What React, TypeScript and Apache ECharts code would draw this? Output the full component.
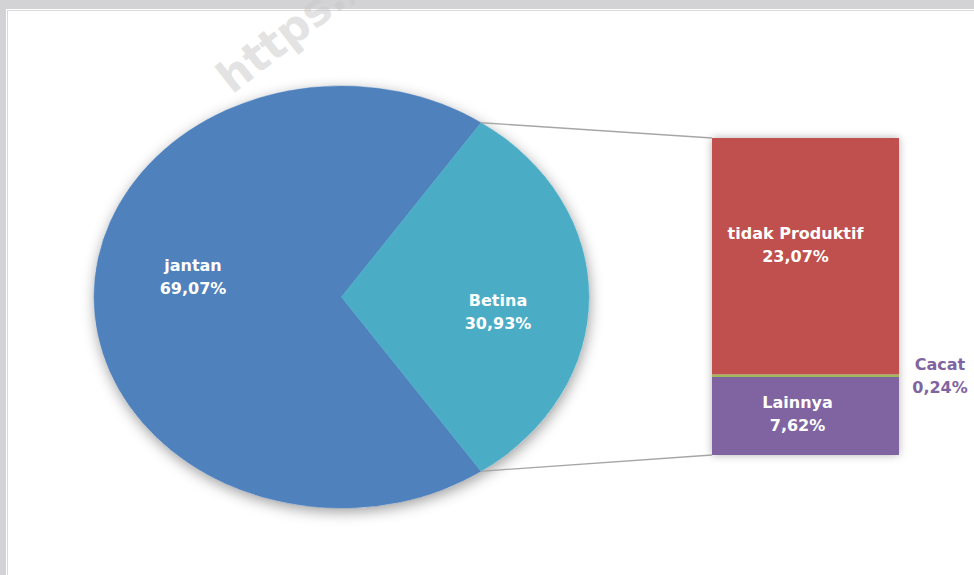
import React, { useEffect, useRef } from "react";
import * as echarts from "echarts";

const pieNames = ["jantan", "Betina"];
const pieValues = [69.07, 30.93];
const pieColors = ["#4f81bd", "#4bacc6"];

const barNames = ["Lainnya", "Cacat", "tidak Produktif"];
const barValues = [7.62, 0.24, 23.07];
const barColors = ["#8064a2", "#9bbb59", "#c0504d"];

const fmt = (v: number) => v.toFixed(2).replace(".", ",") + "%";

// layout
const CX = 341.5;
const CY = 297;
const RX = 247.5;
const RY = 211;
const GRID = { left: 712, top: 138, width: 187, height: 317 };
const labelOffsets = [
  [0, -20],
  [8, 15],
];
const barLabelOffsets = [
  [-8, -2],
  [27, 0],
  [-10, -11],
];
const FONT = "DejaVu Sans, Verdana, sans-serif";

export default function App() {
  const ref = useRef<HTMLDivElement>(null);

  useEffect(() => {
    if (!ref.current) return;
    const chart = echarts.init(ref.current, undefined, { renderer: "svg" });

    const total = pieValues.reduce((a, b) => a + b, 0);
    // Betina (index 1) centered on the right horizontal
    const half = (pieValues[1] / total) * Math.PI;
    const starts = [half, -half];
    const spans = pieValues.map((v) => (v / total) * Math.PI * 2);
    const barTotal = barValues.reduce((a, b) => a + b, 0);

    const renderPie = (params: any) => {
      const i = params.dataIndex;
      const s = starts[i];
      const e = s + spans[i];
      const m = (s + e) / 2;
      const children: any[] = [];
      if (i === 0) {
        children.push({
          type: "ellipse",
          shape: { cx: CX, cy: CY, rx: RX, ry: RY },
          style: {
            fill: "#ffffff",
            shadowBlur: 14,
            shadowOffsetY: 4,
            shadowOffsetX: 1,
            shadowColor: "rgba(0,0,0,0.38)",
          },
        });
      }
      children.push({
        type: "group",
        x: CX,
        y: CY,
        scaleY: RY / RX,
        children: [
          {
            type: "sector",
            shape: { cx: 0, cy: 0, r: RX, r0: 0, startAngle: s, endAngle: e, clockwise: true },
            style: { fill: pieColors[i], stroke: pieColors[i], lineWidth: 0.5 },
          },
        ],
      });
      children.push({
        type: "text",
        x: CX + Math.cos(m) * RX * 0.6 + labelOffsets[i][0],
        y: CY + Math.sin(m) * RY * 0.6 + labelOffsets[i][1],
        style: {
          text: pieNames[i] + "\n" + fmt(pieValues[i]),
          fill: "#ffffff",
          font: `bold 16px ${FONT}`,
          align: "center",
          verticalAlign: "middle",
          lineHeight: 23,
        },
      });
      if (i === 1) {
        const p1 = [CX + RX * Math.cos(s), CY + RY * Math.sin(s)];
        const p2 = [CX + RX * Math.cos(e), CY + RY * Math.sin(e)];
        children.push({
          type: "line",
          shape: { x1: p1[0], y1: p1[1], x2: GRID.left, y2: GRID.top },
          style: { stroke: "#a6a6a6", lineWidth: 1.3 },
        });
        children.push({
          type: "line",
          shape: { x1: p2[0], y1: p2[1], x2: GRID.left, y2: GRID.top + GRID.height },
          style: { stroke: "#a6a6a6", lineWidth: 1.3 },
        });
      }
      return { type: "group", children };
    };

    const barSeries: any[] = [
      {
        type: "bar",
        name: "shadow",
        data: [barTotal],
        barWidth: "100%",
        barGap: "-100%",
        z: 1,
        silent: true,
        itemStyle: {
          color: "#ffffff",
          shadowBlur: 8,
          shadowColor: "rgba(0,0,0,0.3)",
        },
      },
      ...barNames.map((n, i) => ({
        type: "bar",
        name: n,
        stack: "sub",
        data: [barValues[i]],
        barWidth: "100%",
        barGap: "-100%",
        z: 2,
        itemStyle: { color: barColors[i] },
        label: {
          show: true,
          position: n === "Cacat" ? "right" : "inside",
          distance: 14,
          offset: barLabelOffsets[i],
          formatter: () => n + "\n" + fmt(barValues[i]),
          color: n === "Cacat" ? "#8064a2" : "#ffffff",
          fontFamily: FONT,
          fontWeight: "bold",
          fontSize: 16,
          lineHeight: 23,
          align: "center",
        },
      })),
    ];

    chart.setOption({
      animation: false,
      backgroundColor: "transparent",
      grid: { ...GRID, containLabel: false },
      xAxis: { type: "category", data: [""], show: false },
      yAxis: { type: "value", min: 0, max: barTotal, show: false },
      graphic: [
        {
          type: "text",
          x: 236,
          y: 100,
          rotation: (38 * Math.PI) / 180,
          z: 0,
          style: {
            text: "https://",
            font: `bold 44px ${FONT}`,
            fill: "rgba(200,200,200,0.5)",
            align: "left",
            verticalAlign: "bottom",
          },
        },
      ],
      series: [
        {
          type: "custom",
          coordinateSystem: "none",
          data: pieValues.map((v) => [v]),
          renderItem: renderPie,
          z: 3,
        },
        ...barSeries,
      ],
    });

    return () => chart.dispose();
  }, []);

  return (
    <div
      style={{
        position: "fixed",
        left: 0,
        top: 0,
        width: 974,
        height: 575,
        background: "#d3d3d5",
        overflow: "hidden",
      }}
    >
      <div
        style={{
          position: "absolute",
          left: 6,
          top: 9,
          right: 0,
          bottom: 0,
          background: "#ffffff",
          borderLeft: "1px solid #ffffff",
          borderTop: "1px solid #ffffff",
        }}
      >
        <div
          style={{
            position: "absolute",
            left: 0,
            top: 0,
            right: 0,
            bottom: 0,
            borderLeft: "1px solid #d9d9d9",
            borderTop: "1px solid #d9d9d9",
          }}
        />
      </div>
      <div ref={ref} style={{ position: "absolute", left: 0, top: 0, width: 974, height: 575 }} />
    </div>
  );
}
